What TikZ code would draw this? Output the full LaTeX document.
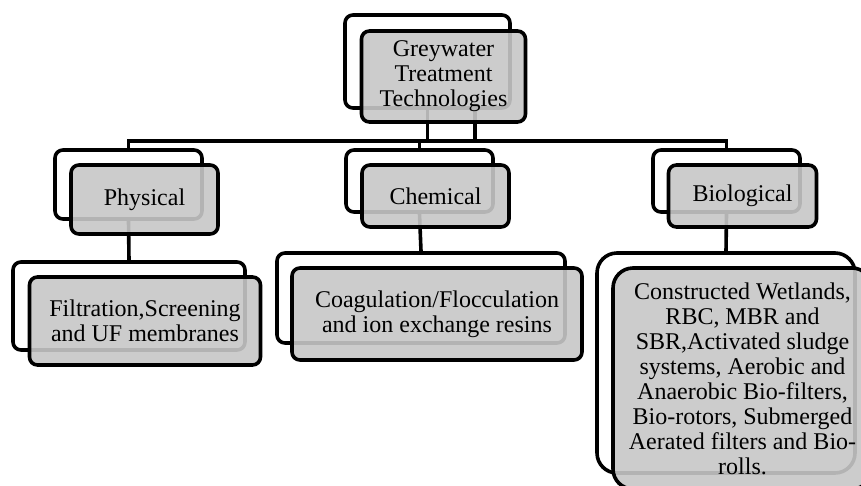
\documentclass[tikz,border=0pt]{standalone}
\usepackage{fontspec}
\setmainfont{Liberation Serif}
\begin{document}
\begin{tikzpicture}[x=1pt,y=-1pt,
  back/.style={draw=black, line width=3.6pt, fill=white, rounded corners=8pt, inner sep=0pt, minimum width=#1},
  front/.style={draw=black, line width=3.6pt, fill=black!22, fill opacity=0.9, text opacity=1, rounded corners=8pt, inner sep=0pt, minimum width=#1, align=center, font=\fontsize{24}{25}\selectfont},
  conn/.style={line width=3.6pt, line join=miter}]
\useasboundingbox (0,0) rectangle (861,485);
\fill[white] (0,0) rectangle (861,485);
% back boxes
\node[back=165pt, minimum height=93pt] (topB) at (427.5,61.5) {};
\node[back=147pt, minimum height=69pt] (phyB) at (128.5,184.5) {};
\node[back=147pt, minimum height=62pt] (cheB) at (419.5,181) {};
\node[back=147pt, minimum height=62pt] (bioB) at (726.5,181) {};
\node[back=232pt, minimum height=88pt] (filB) at (129,306) {};
\node[back=288pt, minimum height=90pt] (coaB) at (421,298) {};
\node[back=258pt, minimum height=220pt, rounded corners=20pt] (bigB) at (726,363) {};
% connectors
\coordinate (bar) at (427.5,141);
\coordinate (extra) at (475,108);
\draw[conn] (topB.south) -- (bar);
\draw[conn] (extra) |- (bar);
\draw[conn] (phyB.north) |- (bar);
\draw[conn] (cheB.north) |- (bar);
\draw[conn] (bioB.north) |- (bar);
\draw[conn] (phyB.south) -- (filB.north);
\draw[conn] (cheB.south) -- (coaB.north);
\draw[conn] (bioB.south) -- (bigB.north);
% front boxes
\node[front=164pt, minimum height=91pt] (topF) at (443.5,76.5) {Greywater\\Treatment\\Technologies};
\node[front=147pt, minimum height=69pt] (phyF) at (144.5,199.5) {Physical};
\node[front=147pt, minimum height=62pt] (cheF) at (435.5,196) {Chemical};
\node[front=148pt, minimum height=62pt] (bioF) at (742.5,196) {Biological};
\node[front=231pt, minimum height=88pt] (filF) at (145,321) {Filtration,Screening\\and UF membranes};
\node[front=290pt, minimum height=92pt] (coaF) at (437,314) {Coagulation/Flocculation\\and ion exchange resins};
\node[front=259pt, minimum height=221pt, rounded corners=20pt] (bigF) at (742.5,378.5) {Constructed Wetlands,\\RBC, MBR and\\SBR,Activated sludge\\systems, Aerobic and\\Anaerobic Bio-filters,\\Bio-rotors, Submerged\\Aerated filters and Bio-\\rolls.};
\end{tikzpicture}
\end{document}
